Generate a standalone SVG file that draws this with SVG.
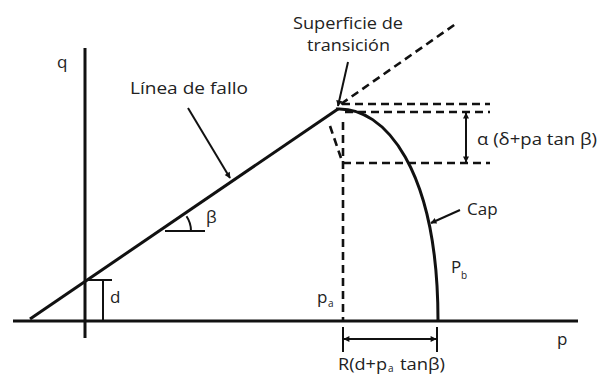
<svg xmlns="http://www.w3.org/2000/svg" width="600" height="376" viewBox="0 0 600 376">
<style>
.ln{stroke:#111;stroke-width:3;fill:none;stroke-linecap:butt}
.thin{stroke:#111;stroke-width:2;fill:none}
.dash{stroke:#111;stroke-width:2.6;fill:none;stroke-dasharray:8 5}
.t{font-family:"Open Sans","Liberation Sans",sans-serif;font-size:17px;fill:#222}
.sub{font-family:"Open Sans","Liberation Sans",sans-serif;font-size:10px;fill:#222}
</style>
<defs>
<marker id="ah" viewBox="0 0 10 10" refX="9" refY="5" markerWidth="7" markerHeight="6" markerUnits="userSpaceOnUse" orient="auto-start-reverse">
<path d="M0,0 L10,5 L0,10 z" fill="#111"/>
</marker>
</defs>
<rect width="600" height="376" fill="#fff"/>
<g id="axes">
<line class="ln" x1="85" y1="48" x2="85" y2="338"/>
<line class="ln" x1="13" y1="321" x2="578" y2="321"/>
<text class="t" x="57" y="68">q</text>
<text class="t" x="557" y="345">p</text>
</g>
<g id="failure-line">
<line class="ln" x1="30" y1="319" x2="338" y2="109"/>
<text class="t" x="130" y="94" textLength="118" lengthAdjust="spacingAndGlyphs">Línea de fallo</text>
</g>
<g id="cap">
<path class="ln" d="M336,109 C385,106 438,170 438,321"/>
<text class="t" x="467" y="215">Cap</text>
<text class="t" x="451" y="273">P</text>
<text class="sub" x="461" y="279">b</text>
</g>
<g id="transition">
<line class="dash" x1="341" y1="104" x2="457" y2="23"/>
<text class="t" x="293" y="29" style="font-size:16px" textLength="110" lengthAdjust="spacingAndGlyphs">Superficie de</text>
<text class="t" x="307" y="51" style="font-size:16px" textLength="83" lengthAdjust="spacingAndGlyphs">transición</text>
</g>
<g id="d-label">
<line class="thin" x1="85" y1="280" x2="112" y2="280"/>
<line class="thin" x1="103" y1="280" x2="103" y2="321"/>
<text class="t" x="110" y="303">d</text>
</g>
<g id="beta">
<line class="thin" x1="165" y1="231" x2="205" y2="231"/>
<path class="thin" d="M186.5,216.3 A26,26 0 0 1 191,231"/>
<text class="t" x="206" y="223">β</text>
</g>
<g id="pa">
<line class="dash" x1="343" y1="122" x2="343" y2="321"/>
<line class="dash" x1="330" y1="126" x2="341" y2="158"/>
<text class="t" x="317" y="303">p</text>
<text class="sub" x="328" y="307">a</text>
</g>
<g id="alpha-dim">
<line class="dash" x1="342" y1="104" x2="490" y2="104"/>
<line class="dash" x1="345" y1="112" x2="490" y2="112"/>
<line class="dash" x1="343" y1="163" x2="490" y2="163"/>
<text class="t" x="477" y="145" textLength="120" lengthAdjust="spacingAndGlyphs">α (δ+pa tan β)</text>
</g>
<g id="r-dim">
<line class="thin" x1="343" y1="327" x2="343" y2="352"/>
<line class="thin" x1="437" y1="327" x2="437" y2="352"/>
<text class="t" x="338" y="370" style="font-size:16px"><tspan textLength="49" lengthAdjust="spacingAndGlyphs">R(d+p</tspan><tspan class="sub" x="388" y="372">a</tspan><tspan x="400" y="370" textLength="45" lengthAdjust="spacingAndGlyphs">tanβ)</tspan></text>
</g>
<g id="connectors">
<line class="thin" x1="348" y1="62" x2="338" y2="106" marker-end="url(#ah)"/>
<line class="thin" x1="188" y1="108" x2="230" y2="178" marker-end="url(#ah)"/>
<line class="thin" x1="460" y1="210" x2="431" y2="223" marker-end="url(#ah)"/>
<line class="thin" x1="466" y1="113" x2="466" y2="162" marker-start="url(#ah)" marker-end="url(#ah)"/>
<line class="thin" x1="344" y1="339" x2="436" y2="339" marker-start="url(#ah)" marker-end="url(#ah)"/>
</g>
</svg>
